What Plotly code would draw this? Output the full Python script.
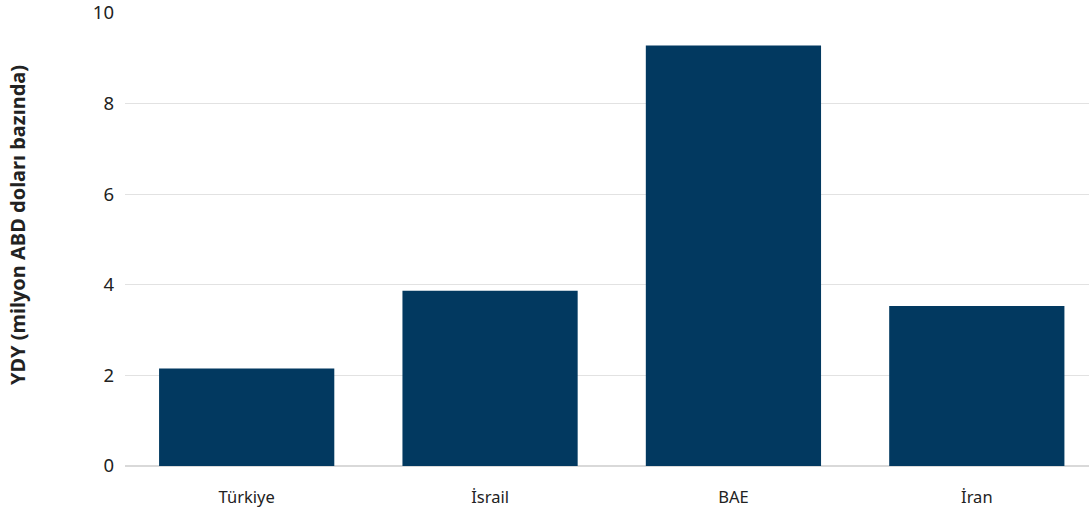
import plotly.graph_objects as go

categories = ["Türkiye", "İsrail", "BAE", "İran"]
values = [2.15, 3.87, 9.28, 3.53]
y_ticks = [0, 2, 4, 6, 8, 10]
y_title = "YDY (milyon ABD doları bazında)"

fig = go.Figure(go.Bar(
    x=list(range(len(categories))), y=values,
    marker=dict(color="#023960", line=dict(width=0)),
    width=0.72,
))

L, T, B, W, H = 125, 13, 48, 1089, 514
pw, ph = W - L, H - T - B

fig.update_layout(
    width=W, height=H,
    margin=dict(l=L, r=0, t=T, b=B),
    plot_bgcolor="white", paper_bgcolor="white",
    font=dict(family="Noto Sans, sans-serif", color="#222222"),
    showlegend=False,
    xaxis=dict(
        tickmode="array", tickvals=list(range(len(categories))), ticktext=categories,
        range=[-0.5, 3.461], showgrid=False, zeroline=False, showline=False,
        tickfont=dict(size=16.5), ticks="", ticklabelstandoff=19,
    ),
    yaxis=dict(
        range=[0, 10], tickvals=y_ticks, showgrid=True, gridcolor="#e2e2e2", gridwidth=1,
        zeroline=True, zerolinecolor="#d9d9d9", zerolinewidth=1.5,
        tickfont=dict(size=18.5), ticks="", ticklabelstandoff=10,
        ticklabeloverflow="allow",
    ),
    annotations=[dict(
        text="<b>" + y_title + "</b>", textangle=-90, showarrow=False,
        xref="paper", yref="paper",
        x=(18 - L) / pw, y=(H - B - 225) / ph,
        xanchor="center", yanchor="middle",
        font=dict(size=20, color="#222222"),
    )],
)

fig.write_html("out.html")
